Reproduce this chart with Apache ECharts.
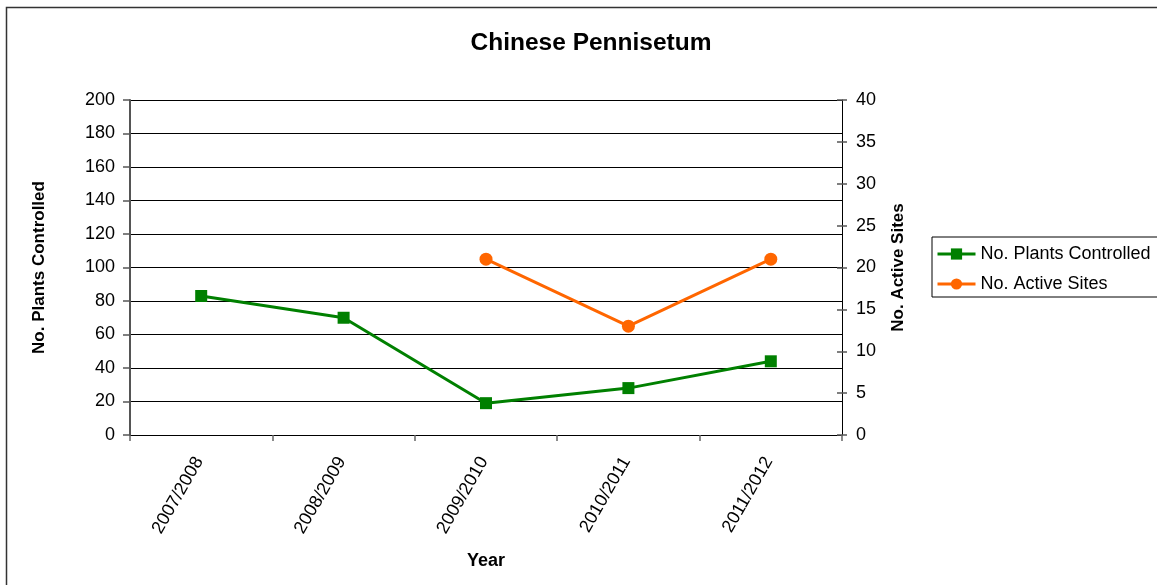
<!DOCTYPE html>
<html>
<head>
<meta charset="utf-8">
<script src="https://cdn.jsdelivr.net/npm/echarts@6/dist/echarts.min.js"></script>
<style>
  html, body { margin: 0; padding: 0; background: #fff; }
  #chart { width: 1157px; height: 585px; }
</style>
</head>
<body>
<div id="chart"></div>
<script>
// Season labels along the bottom axis
const years = ['2007/2008', '2008/2009', '2009/2010', '2010/2011', '2011/2012'];
// Plants controlled per season (left axis)
const plantsControlled = [83, 70, 19, 28, 44];
// Active sites per season (right axis); not recorded for the first two seasons
const activeSites = [null, null, 21, 13, 21];

const FONT = '"Liberation Sans", Arial, sans-serif';

const chart = echarts.init(document.getElementById('chart'));

chart.setOption({
  backgroundColor: '#fff',
  animation: false,
  textStyle: { fontFamily: FONT, color: '#000' },
  title: {
    text: 'Chinese Pennisetum',
    left: 586,
    textAlign: 'center',
    top: 26,
    textStyle: { fontFamily: FONT, fontSize: 24.5, fontWeight: 'bold', color: '#000' }
  },
  grid: { left: 130, right: 315, top: 100, bottom: 150, containLabel: false },
  legend: {
    orient: 'vertical',
    left: 932,
    top: 237,
    padding: [8, 30, 4, 4],
    itemGap: 12,
    itemWidth: 38,
    itemHeight: 14,
    borderColor: '#000',
    borderWidth: 1,
    borderRadius: 0,
    lineStyle: { width: 3 },
    textStyle: { fontFamily: FONT, fontSize: 18, color: '#000', padding: [0, 0, 0, 0] },
    data: ['No. Plants Controlled', 'No. Active Sites']
  },
  xAxis: {
    type: 'category',
    data: years,
    boundaryGap: true,
    name: 'Year',
    nameLocation: 'middle',
    nameGap: 117,
    nameTextStyle: { fontFamily: FONT, fontSize: 18, fontWeight: 'bold', color: '#000' },
    axisLine: { lineStyle: { color: '#000', width: 1 } },
    axisTick: { show: true, alignWithLabel: false, length: 6, lineStyle: { color: '#666', width: 1.5 } },
    axisLabel: { rotate: 60, margin: 20, padding: [0, 4, 0, 0], fontFamily: FONT, fontSize: 18, color: '#000' },
    splitLine: { show: false }
  },
  yAxis: [
    {
      type: 'value',
      min: 0,
      max: 200,
      interval: 20,
      position: 'left',
      name: 'No. Plants Controlled',
      nameLocation: 'middle',
      nameGap: 82,
      nameTextStyle: { fontFamily: FONT, fontSize: 17, fontWeight: 'bold', color: '#000' },
      axisLine: { show: true, lineStyle: { color: '#555', width: 2 } },
      axisTick: { show: true, inside: false, length: 7, lineStyle: { color: '#555', width: 1.5 } },
      axisLabel: { margin: 15, fontFamily: FONT, fontSize: 18, color: '#000' },
      splitLine: { show: true, lineStyle: { color: '#000', width: 1 } }
    },
    {
      type: 'value',
      min: 0,
      max: 40,
      interval: 5,
      position: 'right',
      name: 'No. Active Sites',
      nameLocation: 'middle',
      nameGap: 48,
      nameTextStyle: { fontFamily: FONT, fontSize: 17, fontWeight: 'bold', color: '#000' },
      axisLine: { show: true, lineStyle: { color: '#000', width: 1 } },
      axisTick: { show: true, inside: false, length: 5, lineStyle: { color: '#555', width: 1.5 } },
      axisLabel: { margin: 14, fontFamily: FONT, fontSize: 18, color: '#000' },
      splitLine: { show: false }
    },
    {
      // inner half of the right-hand ticks, so they straddle the axis line
      type: 'value',
      min: 0,
      max: 40,
      interval: 5,
      position: 'right',
      axisLine: { show: false },
      axisTick: { show: true, inside: true, length: 5, lineStyle: { color: '#555', width: 1.5 } },
      axisLabel: { show: false },
      splitLine: { show: false }
    }
  ],
  series: [
    {
      name: 'No. Plants Controlled',
      type: 'line',
      yAxisIndex: 0,
      data: plantsControlled,
      symbol: 'rect',
      symbolSize: 12,
      lineStyle: { color: '#008000', width: 3 },
      itemStyle: { color: '#008000' },
      z: 3
    },
    {
      name: 'No. Active Sites',
      type: 'line',
      yAxisIndex: 1,
      data: activeSites,
      connectNulls: false,
      symbol: 'circle',
      symbolSize: 13,
      lineStyle: { color: '#FF6600', width: 3 },
      itemStyle: { color: '#FF6600' },
      z: 3
    }
  ],
  graphic: [
    {
      type: 'rect',
      shape: { x: 6.5, y: 7.5, width: 1170, height: 600 },
      style: { fill: 'none', stroke: '#333', lineWidth: 1.5 },
      silent: true,
      z: 100
    }
  ]
});
</script>
</body>
</html>
